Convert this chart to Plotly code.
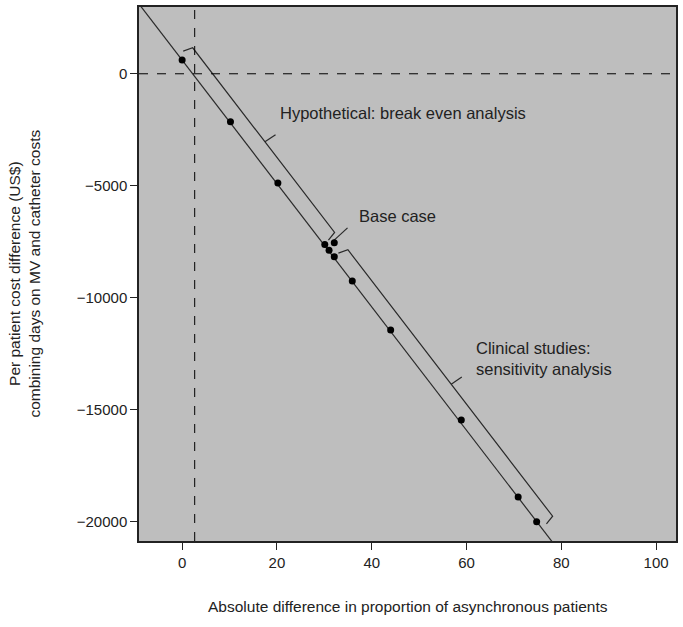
import plotly.graph_objects as go

# ---- data ----
hyp_x = [0, 10.2, 20.2]
hyp_y = [610, -2140, -4870]
clin_x = [30.1, 31.0, 32.1, 35.9, 44.0, 58.9, 70.9, 74.8]
clin_y = [-7620, -7870, -8160, -9250, -11430, -15450, -18890, -19990]
base_x = [32.1]
base_y = [-7540]

line_intercept = 609
line_slope = -275.3
breakeven_x = 2.65

x_ticks = [0, 20, 40, 60, 80, 100]
y_ticks = [0, -5000, -10000, -15000, -20000]
x_range = [-9.1, 104.2]
y_range = [-20850, 2980]

x_title = "Absolute difference in proportion of asynchronous patients"
y_title = "Per patient cost difference (US$)<br>combining days on MV and catheter costs"

hyp_brace = (-0.44, 14.8, 29.5)
clin_brace = (32.3, 54.1, 75.5)
brace_off = (2.67, 431)

FONT = "Liberation Sans"
TXT = "#222222"
LINE = "#2a2a2a"


def P(t, k=0.0):
    return t + k * brace_off[0], line_intercept + line_slope * t + k * brace_off[1]


def brace(t1, tm, t2):
    pts = [P(t1 - 0.4, 0.4), P(t1, 1.0), P(t2, 1.0), P(t2 + 0.3, 0.4), None,
           P(tm, 1.0), P(tm + 0.1, 1.8)]
    xs = [p[0] if p else None for p in pts]
    ys = [p[1] if p else None for p in pts]
    return xs, ys


fig = go.Figure()

lx = [x_range[0] - 5, x_range[1] + 5]
fig.add_trace(go.Scatter(x=lx, y=[line_intercept + line_slope * v for v in lx], mode="lines",
                         line=dict(color=LINE, width=1.2), hoverinfo="skip", showlegend=False))

for b in (hyp_brace, clin_brace):
    bx, by = brace(*b)
    fig.add_trace(go.Scatter(x=bx, y=by, mode="lines", line=dict(color=LINE, width=1.2),
                             hoverinfo="skip", showlegend=False, connectgaps=False))

fig.add_trace(go.Scatter(x=[34.9, 31.85], y=[-6876, -7467], mode="lines",
                         line=dict(color=LINE, width=1.2), hoverinfo="skip", showlegend=False))

fig.add_trace(go.Scatter(x=hyp_x + clin_x + base_x, y=hyp_y + clin_y + base_y, mode="markers",
                         marker=dict(color="black", size=7), showlegend=False))

fig.add_hline(y=0, line=dict(color="black", width=1, dash="dash"))
fig.add_vline(x=breakeven_x, line=dict(color="black", width=1, dash="dash"))

ann_font = dict(family=FONT, size=16.5, color=TXT)
fig.add_annotation(x=20.2, y=-1764, text="Hypothetical: break even analysis", showarrow=False,
                   xanchor="left", yanchor="middle", font=ann_font)
fig.add_annotation(x=36.8, y=-6355, text="Base case", showarrow=False,
                   xanchor="left", yanchor="middle", font=ann_font)
fig.add_annotation(x=61.6, y=-12724, text="Clinical studies:<br>sensitivity analysis", showarrow=False,
                   xanchor="left", yanchor="middle", align="left", font=ann_font)

fig.add_annotation(x=-0.215, y=0.5, xref="paper", yref="paper", text=y_title, showarrow=False,
                   textangle=-90, xanchor="center", yanchor="middle",
                   font=dict(family=FONT, size=15.5, color=TXT))
fig.add_annotation(x=0.5, y=-0.122, xref="paper", yref="paper", text=x_title, showarrow=False,
                   xanchor="center", yanchor="middle",
                   font=dict(family=FONT, size=15.5, color=TXT))

axis_common = dict(showgrid=False, zeroline=False, showline=True, linecolor="#222222", linewidth=1.5,
                   mirror=True, ticks="outside", ticklen=7, tickcolor="#222222", tickwidth=1.2,
                   tickfont=dict(family=FONT, size=15, color=TXT))
fig.update_xaxes(range=x_range, tickvals=x_ticks, ticktext=[str(v) for v in x_ticks], **axis_common)
fig.update_yaxes(range=y_range, tickvals=y_ticks, ticktext=[str(v).replace("-", "\u2212") for v in y_ticks],
                 **axis_common)

fig.update_layout(width=683, height=627, margin=dict(l=139, r=6, t=5, b=86),
                  plot_bgcolor="#bebebe", paper_bgcolor="white", showlegend=False)

fig.write_html("out.html", config={"displayModeBar": False},
               post_script="document.body.style.margin='0';")
